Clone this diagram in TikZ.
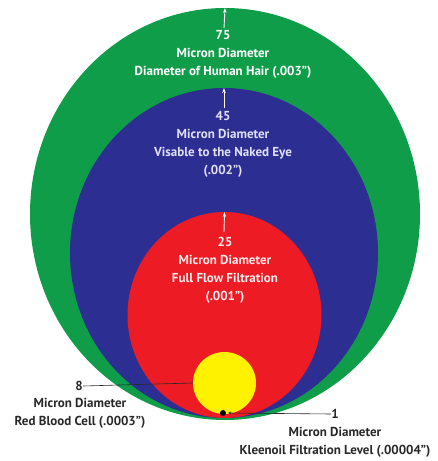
\documentclass[tikz,border=0pt]{standalone}
\usepackage{fontspec}
\setmainfont{PT Sans}
\usetikzlibrary{shapes.geometric,arrows.meta}
\definecolor{cgreen}{RGB}{16,157,74}
\definecolor{cblue}{RGB}{45,46,145}
\definecolor{cred}{RGB}{237,28,36}
\definecolor{cyellow}{RGB}{255,242,0}
\definecolor{ctext}{RGB}{40,40,40}
\tikzset{
  disc/.style={ellipse, inner sep=0pt, outer sep=0pt, draw=none},
  lbl/.style={align=center, font=\bfseries\fontsize{13}{18}\selectfont, inner sep=0pt},
  inlbl/.style={lbl, text=white},
  outlbl/.style={lbl, text=ctext},
  uparrow/.style={draw=white!90!pink, line width=0.9pt, -{Stealth[length=5pt,width=3.5pt]}},
  leader/.style={draw=ctext, line width=0.6pt}
}
\begin{document}
\begin{tikzpicture}[x=1pt,y=-1pt]
\useasboundingbox (0,0) rectangle (438,461);
\node[disc, fill=cgreen, minimum width=390pt, minimum height=412pt] (green) at (225,214) {};
\node[disc, fill=cblue, minimum width=308pt, minimum height=330pt] (blue) at (224,253) {};
\node[disc, fill=cred, minimum width=194pt, minimum height=206pt] (red) at (224.5,315) {};
\node[disc, fill=cyellow, minimum width=63pt, minimum height=62pt] (yellow) at (224.5,383) {};
\node[circle, fill=black, inner sep=0pt, minimum size=6pt] (dot) at (223,413) {};

\coordinate (ga) at (224,28);
\coordinate (ba) at (224,108);
\coordinate (ra) at (224,232);
\draw[uparrow] (ga) -- (green.north);
\draw[uparrow] (ba) -- (blue.north);
\draw[uparrow] (ra) -- (red.north);

\node[inlbl] (t75) at (223,54) {75\\Micron Diameter\\Diameter of Human Hair (.003")};
\node[inlbl, text=white!88!blue] (t45) at (223,144) {45\\Micron Diameter\\Visable to the Naked Eye\\(.002")};
\node[inlbl, text=white!92!red] (t25) at (225,270) {25\\Micron Diameter\\Full Flow Filtration\\(.001")};

\node[outlbl] (eight) at (79,386) {8};
\node[outlbl] (t8) at (80,413) {Micron Diameter\\Red Blood Cell (.0003")};
\draw[leader] (eight.east) -- (yellow.west);

\node[outlbl] (one) at (335,414) {1};
\node[outlbl] (t1) at (335,442) {Micron Diameter\\Kleenoil Filtration Level (.00004")};
\draw[leader, -{Stealth[length=3pt,width=3pt]}] (one.west) -- ([xshift=2pt]dot.east);
\end{tikzpicture}
\end{document}
